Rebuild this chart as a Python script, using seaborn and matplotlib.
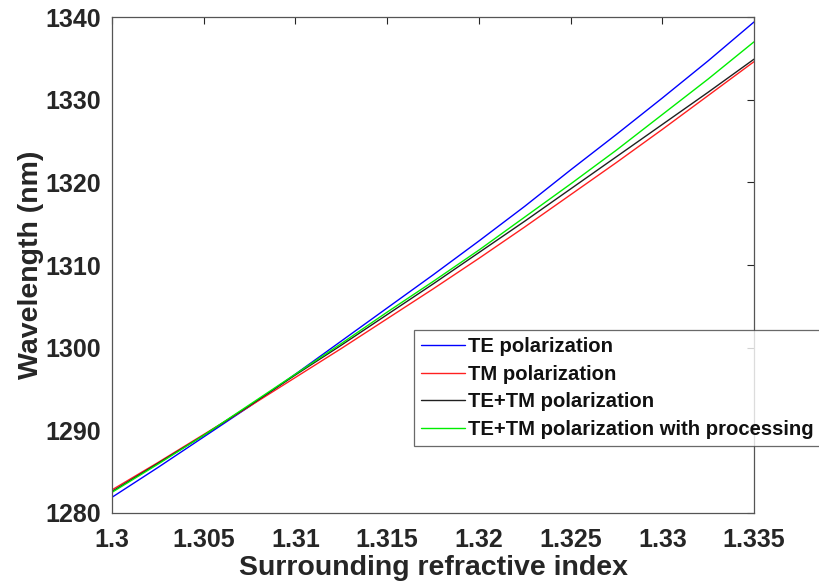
import numpy as np
import pandas as pd
import matplotlib
matplotlib.use("Agg")
import matplotlib.pyplot as plt
import seaborn as sns

# surrounding refractive index samples
n_index = [1.3, 1.3025, 1.305, 1.3075, 1.31, 1.3125, 1.315, 1.3175,
           1.32, 1.3225, 1.325, 1.3275, 1.33, 1.3325, 1.335]

# resonance wavelengths (nm)
te = [1281.9, 1285.5, 1289.2, 1292.9, 1296.8, 1300.8, 1304.8, 1308.8,
      1312.9, 1317.1, 1321.5, 1325.8, 1330.2, 1334.7, 1339.4]
tm = [1282.8, 1286.1, 1289.5, 1292.9, 1296.4, 1299.9, 1303.5, 1307.1,
      1310.8, 1314.6, 1318.5, 1322.4, 1326.4, 1330.5, 1334.6]
te_tm = [1282.6, 1286.0, 1289.4, 1293.0, 1296.7, 1300.3, 1304.0, 1307.7,
         1311.5, 1315.3, 1319.2, 1323.1, 1327.0, 1330.9, 1334.9]
te_tm_proc = [1282.5, 1285.9, 1289.4, 1293.1, 1296.8, 1300.5, 1304.3, 1308.0,
              1311.8, 1315.8, 1319.8, 1323.9, 1328.2, 1332.5, 1337.0]

labels = ["TE polarization", "TM polarization", "TE+TM polarization",
          "TE+TM polarization with processing"]
colors = ["#0000ff", "#ff2020", "#202020", "#00ee00"]

df = pd.concat([
    pd.DataFrame({"n": n_index, "wl": vals, "series": lab})
    for vals, lab in zip([te, tm, te_tm, te_tm_proc], labels)
], ignore_index=True)

sns.set_style("white")
plt.rcParams["font.family"] = ["Liberation Sans", "DejaVu Sans"]
plt.rcParams["font.weight"] = "bold"

fig = plt.figure(figsize=(8.19, 5.88), dpi=100)
ax = fig.add_axes([0.1368, 0.1276, 0.7838, 0.8434])

sns.lineplot(data=df, x="n", y="wl", hue="series", hue_order=labels,
             palette=dict(zip(labels, colors)), linewidth=1.0, ax=ax,
             estimator=None, sort=False)

ax.set_xlim(1.3, 1.335)
ax.set_ylim(1280, 1340)
ax.set_xticks([1.3, 1.305, 1.31, 1.315, 1.32, 1.325, 1.33, 1.335])
ax.set_xticklabels(["1.3", "1.305", "1.31", "1.315", "1.32", "1.325", "1.33", "1.335"])
ax.set_yticks(np.arange(1280, 1341, 10))

ax.tick_params(direction="in", length=5, width=0.8, colors="#262626",
               labelsize=18, top=True, right=True)
ax.tick_params(axis="x", pad=11)
ax.tick_params(axis="y", pad=8)
for lab in ax.get_xticklabels() + ax.get_yticklabels():
    lab.set_fontweight("bold")
for sp in ax.spines.values():
    sp.set_color("#555555")
    sp.set_linewidth(0.9)

ax.set_xlabel("Surrounding refractive index", fontsize=20.5, fontweight="bold",
              color="#262626", labelpad=2)
ax.set_ylabel("Wavelength (nm)", fontsize=20.5, fontweight="bold",
              color="#262626", labelpad=1)

leg = ax.legend(loc="lower left", bbox_to_anchor=(0.47, 0.135), borderaxespad=0,
                fancybox=False, frameon=True, edgecolor="#444444",
                prop={"size": 14.6, "weight": "bold"}, handlelength=2.2,
                handletextpad=0.15, labelspacing=0.42, borderpad=0.35)
leg.get_frame().set_linewidth(0.9)
for t in leg.get_texts():
    t.set_color("#111111")

fig.savefig("out.png", dpi=100)
